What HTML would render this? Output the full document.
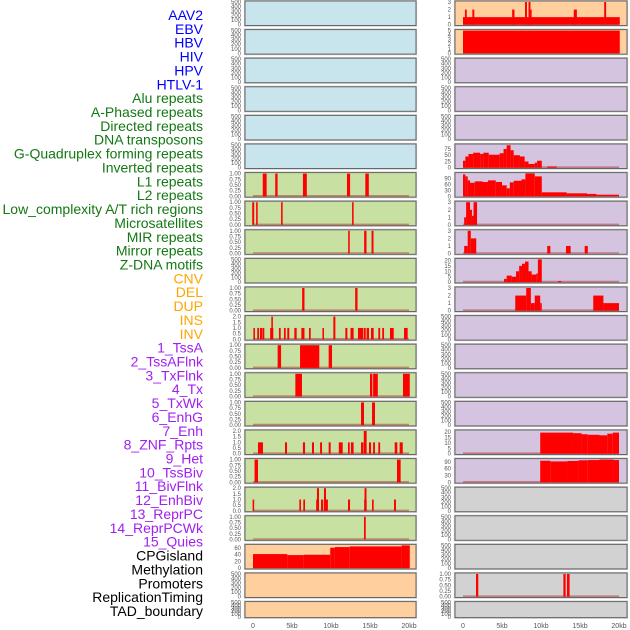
<!DOCTYPE html>
<html><head><meta charset="utf-8">
<style>
html,body{margin:0;padding:0;background:#fff;}
svg{display:block;font-family:"Liberation Sans",sans-serif;}
</style></head>
<body>
<svg id="chart" width="630" height="630" viewBox="0 0 630 630" xmlns="http://www.w3.org/2000/svg"></svg>
<script>
// ---- labels ----
const LABELS = ["AAV2","EBV","HBV","HIV","HPV","HTLV-1","Alu repeats","A-Phased repeats","Directed repeats","DNA transposons","G-Quadruplex forming repeats","Inverted repeats","L1 repeats","L2 repeats","Low_complexity A/T rich regions","Microsatellites","MIR repeats","Mirror repeats","Z-DNA motifs","CNV","DEL","DUP","INS","INV","1_TssA","2_TssAFlnk","3_TxFlnk","4_Tx","5_TxWk","6_EnhG","7_Enh","8_ZNF_Rpts","9_Het","10_TssBiv","11_BivFlnk","12_EnhBiv","13_ReprPC","14_ReprPCWk","15_Quies","CPGisland","Methylation","Promoters","ReplicationTiming","TAD_boundary"];
const LABEL_GROUPS = [6,13,5,15,5];
const GROUP_COLORS = ["#0000ff","#137813","#ffa500","#a020f0","#000000"];

// ---- x axis ----
const X_TICKS = [0,5,10,15,20];
const X_TICK_LABELS = ["0","5kb","10kb","15kb","20kb"];

// ---- tick label sets ----
const T500 = ["0","100","200","300","400","500"]; const T500V = [0,100,200,300,400,500];
const T1 = ["0.00","0.25","0.50","0.75","1.00"]; const T1V = [0,0.25,0.5,0.75,1];
const T2 = ["0.0","0.5","1.0","1.5","2.0"]; const T2V = [0,0.5,1,1.5,2];
const T3 = ["0","1","2","3"]; const T3V = [0,1,2,3];
const T5 = ["0","1","2","3","4","5"]; const T5V = [0,1,2,3,4,5];
const T20 = ["0","5","10","15","20"]; const T20V = [0,5,10,15,20];
const T75 = ["0","25","50","75"]; const T75V = [0,25,50,75];
const T90 = ["0","30","60","90"]; const T90V = [0,30,60,90];
const T60 = ["0","20","40","60"]; const T60V = [0,20,40,60];

// ---- series data: [startKb, endKb, value] ----
const L1_LEFT = [[1.25,1.75,1],[2.85,3.15,1],[6.4,6.9,1],[12.05,12.45,1],[14.4,14.85,1]];
const L2_LEFT = [[-0.1,0.15,1],[0.4,0.6,1],[3.6,3.8,1],[12.7,12.9,1]];
const MIR_LEFT = [[12.2,12.4,1],[14.25,14.55,1],[15.2,15.45,1]];
const DEL_LEFT = [[6.3,6.6,1],[13.1,13.4,1]];
const INS_LEFT = [[0.05,0.25,1],[0.55,0.77,1],[0.9,1.15,1],[1.2,1.45,1],[2.2,2.6,1],[2.35,2.55,2],[3.33,3.55,1],[3.97,4.19,1],[4.4,4.65,1],[5.3,5.6,1],[6.2,6.6,1],[7.18,7.4,1],[8.9,9.1,1],[10.3,10.56,2],[11.84,12.1,1],[12.5,12.9,1],[13.46,14.15,1],[14.23,14.45,1],[14.57,14.87,1],[15.13,15.47,1],[16.07,16.3,1],[16.57,16.8,1],[17.56,18.04,1],[19.36,19.83,1]];
const TSSA_LEFT = [[3.16,3.6,1],[6.03,8.5,1],[9.7,10.13,1]];
const TSSAFLNK_LEFT = [[5.43,6.28,1],[15.0,15.3,1],[15.4,16.0,1],[19.23,20.1,1]];
const TXFLNK_LEFT = [[13.85,14.23,1],[15.26,15.64,1]];
const TX_LEFT = [[0.64,1.28,1],[4.1,4.36,1],[6.4,6.67,1],[7.56,7.82,1],[8.6,8.85,1],[9.7,9.96,1],[11.0,11.5,1],[12.18,12.4,1],[12.56,12.9,1],[13.85,14.15,1],[14.2,14.57,2],[14.87,15.13,1],[15.4,15.64,1],[16.07,16.3,1],[18.17,18.5,1],[18.8,19.2,1]];
const TXWK_LEFT = [[0.2,0.64,1],[18.46,18.93,1]];
const ENHG_LEFT = [[-0.05,0.15,1],[5.94,6.15,1],[6.45,6.67,1],[8.1,8.46,1],[8.2,8.46,2],[8.72,9.0,1],[9.1,9.36,2],[9.36,9.6,1],[12.18,12.44,1],[14.25,14.57,1],[14.3,14.55,2],[15.26,15.47,1],[18.08,18.33,1]];
const ENH_LEFT = [[14.23,14.45,1]];
const CPG_LEFT = [[0,4.4,42],[4.4,6.5,39],[6.5,9.9,40],[9.9,10.5,61],[10.5,12.4,63],[12.4,19.05,65],[19.05,20.1,68]];

const AAV2_RIGHT = [[0,20.1,1],[0.25,0.48,2],[1.2,1.45,2],[6.3,6.6,2],[7.95,8.2,3],[8.4,8.65,3],[8.65,8.8,2],[14.2,14.6,2],[18.1,18.35,3]];
const EBV_RIGHT = [[0,20.1,5]];
const G4_RIGHT = [[0,0.3,28],[0.3,0.7,45],[0.7,1.3,55],[1.3,2.2,60],[2.2,2.6,55],[2.6,3.3,60],[3.3,4.7,52],[4.7,5.2,58],[5.2,5.6,75],[5.6,6.1,90],[6.1,6.5,70],[6.5,7.3,50],[7.3,7.9,45],[7.9,8.4,25],[8.4,9.2,15],[9.2,9.5,20],[9.5,10.1,28],[10.8,12.0,5]];
const L1_RIGHT = [[0,0.3,110],[0.3,0.6,100],[0.6,0.9,80],[0.9,1.5,68],[1.5,2.5,75],[2.5,3.2,72],[3.2,4.2,80],[4.2,5.0,72],[5.0,5.6,55],[5.6,6.0,40],[6.0,6.5,70],[6.5,7.5,78],[7.5,8.0,85],[8.0,9.2,115],[9.2,10.1,100],[10.1,13.3,20],[13.3,15.9,15],[15.9,17.1,12],[17.1,20,8]];
const LOWCOMP_RIGHT = [[0.15,0.4,1],[0.4,0.9,3],[0.9,1.15,2],[1.15,1.35,1.2],[1.35,1.8,3]];
const MICRO_RIGHT = [[0.15,0.6,1],[0.6,1.0,3],[1.0,1.7,2],[10.8,11.2,1],[13.2,13.8,1],[15.6,16.0,1]];
const ZDNA_RIGHT = [[5.26,5.6,3],[5.6,6.25,6],[6.25,6.8,5],[6.8,7.2,10],[7.2,7.56,15],[7.56,7.95,17],[7.95,8.4,19],[8.4,8.8,10],[8.8,9.4,7],[9.4,9.6,8],[9.6,10.1,21],[12.2,12.6,1]];
const DEL_RIGHT = [[6.7,8.1,2],[8.1,8.7,3],[8.7,9.2,1],[9.2,9.9,2],[9.9,10.1,1],[16.7,18.0,2],[18.0,20.0,1]];
const ZNF_RIGHT = [[9.9,14.1,19.5],[14.1,15.2,19],[15.2,16,18],[16,17.5,17.5],[17.5,18.5,17],[18.5,19.2,18.5],[19.2,20,19.5]];
const HET_RIGHT = [[9.9,11.2,95],[11.2,13.4,92],[13.4,14.8,94],[14.8,16,97],[16,17.5,98],[17.5,19.3,100],[19.3,20,98]];
const PROM_RIGHT = [[1.67,1.96,1],[12.87,13.16,1],[13.33,13.67,1]];

const C_BLUE="#c8e4ec", C_GREEN="#c8e0a2", C_ORANGE="#ffd09e", C_PURPLE="#d4c4e0", C_GRAY="#d2d2d2";

// panel config: [bg, data, ymax, tickLabels, tickValues]
const LEFT_PANELS = [
 [C_BLUE,null,500,T500,T500V],[C_BLUE,null,500,T500,T500V],[C_BLUE,null,500,T500,T500V],
 [C_BLUE,null,500,T500,T500V],[C_BLUE,null,500,T500,T500V],[C_BLUE,null,500,T500,T500V],
 [C_GREEN,L1_LEFT,1,T1,T1V],[C_GREEN,L2_LEFT,1,T1,T1V],[C_GREEN,MIR_LEFT,1,T1,T1V],
 [C_GREEN,null,500,T500,T500V],[C_GREEN,DEL_LEFT,1,T1,T1V],[C_GREEN,INS_LEFT,2,T2,T2V],
 [C_GREEN,TSSA_LEFT,1,T1,T1V],[C_GREEN,TSSAFLNK_LEFT,1,T1,T1V],[C_GREEN,TXFLNK_LEFT,1,T1,T1V],
 [C_GREEN,TX_LEFT,2,T2,T2V],[C_GREEN,TXWK_LEFT,1,T1,T1V],[C_GREEN,ENHG_LEFT,2,T2,T2V],
 [C_GREEN,ENH_LEFT,1,T1,T1V],[C_ORANGE,CPG_LEFT,68,T60,T60V],[C_ORANGE,null,500,T500,T500V],
 [C_ORANGE,null,500,T500,T500V]
];
const RIGHT_PANELS = [
 [C_ORANGE,AAV2_RIGHT,3,T3,T3V],[C_ORANGE,EBV_RIGHT,5,T5,T5V],[C_PURPLE,null,500,T500,T500V],
 [C_PURPLE,null,500,T500,T500V],[C_PURPLE,null,500,T500,T500V],[C_PURPLE,G4_RIGHT,91,T75,T75V],
 [C_PURPLE,L1_RIGHT,114,T90,T90V],[C_PURPLE,LOWCOMP_RIGHT,3,T3,T3V],[C_PURPLE,MICRO_RIGHT,3,T3,T3V],
 [C_PURPLE,ZDNA_RIGHT,21,T20,T20V],[C_PURPLE,DEL_RIGHT,3,T3,T3V],[C_PURPLE,null,500,T500,T500V],
 [C_PURPLE,null,500,T500,T500V],[C_PURPLE,null,500,T500,T500V],[C_PURPLE,null,500,T500,T500V],
 [C_PURPLE,ZNF_RIGHT,21,T20,T20V],[C_PURPLE,HET_RIGHT,100,T90,T90V],[C_GRAY,null,500,T500,T500V],
 [C_GRAY,null,500,T500,T500V],[C_GRAY,null,500,T500,T500V],[C_GRAY,PROM_RIGHT,1,T1,T1V],
 [C_GRAY,null,500,T500,T500V]
];

const NS="http://www.w3.org/2000/svg";
const svg=document.getElementById('chart');
function mk(tag,attrs,parent){const e=document.createElementNS(NS,tag);for(const k in attrs)e.setAttribute(k,attrs[k]);(parent||svg).appendChild(e);return e;}

// labels
let gi=0,cnt=0;
const lg=mk('g',{});


LABELS.forEach((t,i)=>{
  while(cnt>=LABEL_GROUPS[gi]){cnt=0;gi++;}
  cnt++;
  const el=mk('text',{x:203,y:15+i*13.86+5,'text-anchor':'end','font-size':'14',fill:GROUP_COLORS[gi]},lg);
  el.textContent=t;
  
  
});

const COLS=[{px:245,pw:171,x0:253},{px:455,pw:172,x0:463}];
const KBPX=7.8;
function rowTop(i){return 1+28.6*i;}

function drawPanel(col,i,cfg){
  const c=COLS[col];
  const T=rowTop(i), H=(i===21)?16:24.5;
  const g=mk('g',{});
  
  
  const [bg,data,ymax,tl,tv]=cfg;
  mk('rect',{x:c.px-0.5,y:T-0.5,width:c.pw+1,height:H+1,fill:'none',stroke:'#c8c8c8','stroke-width':1.2},g);
  mk('rect',{x:c.px,y:T,width:c.pw,height:H,fill:bg,stroke:'#666','stroke-width':1},g);
  const top=T+1, base=T+H-0.8;
  const ys=v=>base-(v/ymax)*(base-top);
  const xs=k=>c.x0+k*KBPX;
  if(data){
    mk('line',{x1:xs(0),x2:xs(20),y1:base-0.5,y2:base-0.5,stroke:'rgba(170,30,30,0.45)','stroke-width':1.6},g);
    data.forEach(d=>{
      const r=mk('rect',{x:xs(d[0]),y:ys(d[2]),width:Math.max(0.8,xs(d[1])-xs(d[0])),height:base-ys(d[2]),fill:'#ff0000'},g);
      
      
    });
  }
  tl.forEach((t,k)=>{
    const tx=mk('text',{x:c.px-4,y:ys(tv[k])+2,'text-anchor':'end','font-size':'6',fill:'#555'},g);
    tx.textContent=t;
    
    
  });
}
LEFT_PANELS.forEach((p,i)=>drawPanel(0,i,p));
RIGHT_PANELS.forEach((p,i)=>drawPanel(1,i,p));

// x axes
COLS.forEach((c,ci)=>{
  X_TICKS.forEach((k,j)=>{
    const t=mk('text',{x:c.x0+k*KBPX,y:628,'text-anchor':'middle','font-size':'7',fill:'#555'});
    t.textContent=X_TICK_LABELS[j];
    
    
  });
});
</script>
</body></html>
